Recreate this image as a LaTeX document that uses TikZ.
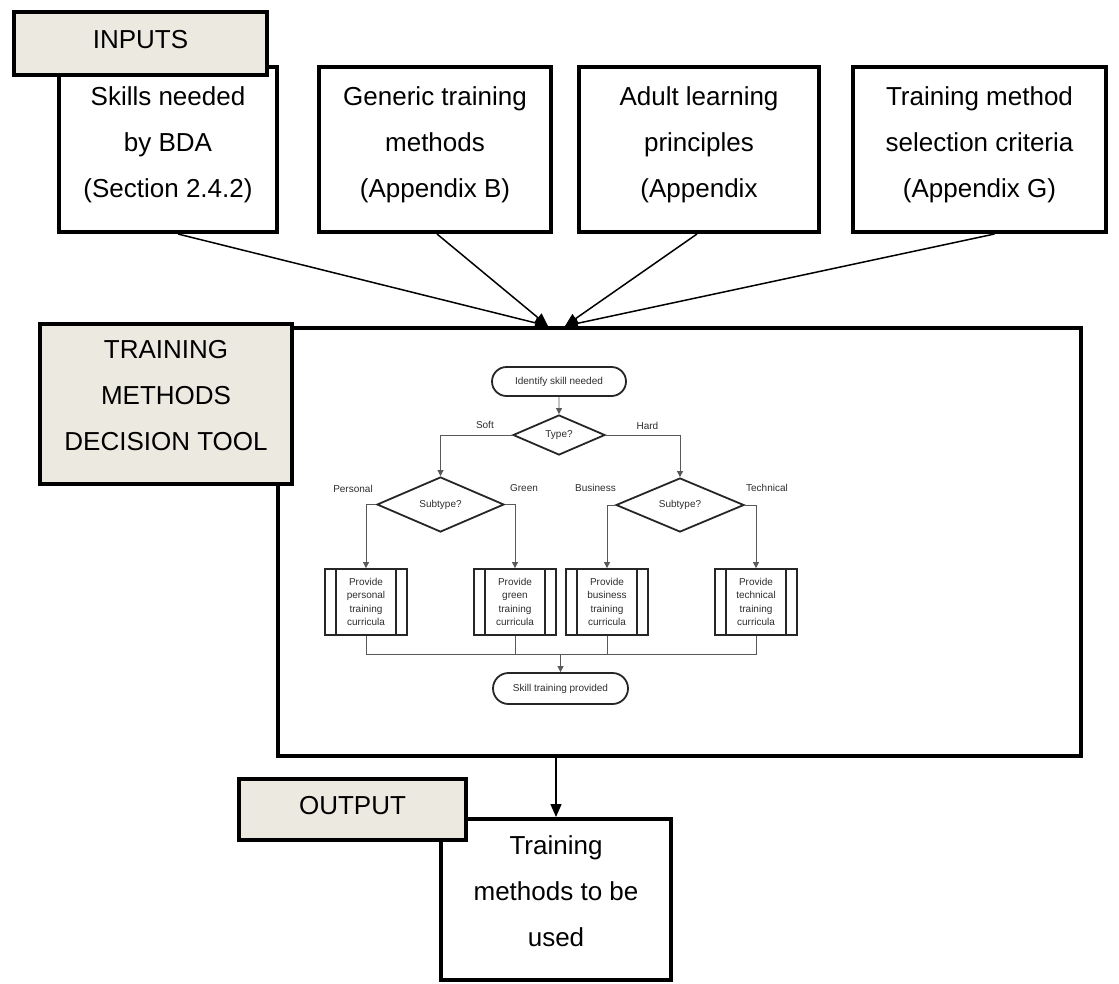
\documentclass[tikz,border=0pt]{standalone}
\usepackage{fontspec}
\setmainfont{Liberation Sans}
\usetikzlibrary{arrows.meta,shapes.geometric,shapes.misc}
\definecolor{tagfill}{RGB}{236,234,224}
\definecolor{ink}{RGB}{45,45,45}
\begin{document}
\begin{tikzpicture}[x=1pt,y=-1pt,
        big/.style={font=\fontsize{26}{46}\selectfont},
        inbox/.style={draw,line width=4pt,minimum height=165pt,inner sep=0pt},
        tagbox/.style={draw,line width=4pt,fill=tagfill,inner sep=0pt,big},
        note/.style={align=center,inner sep=0pt,big},
        feed/.style={line width=1.5pt,-{Triangle[length=13pt,width=11pt]}},
        small/.style={font=\fontsize{10}{13.3}\selectfont,text=ink},
        term/.style={draw=black!85,line width=1.8pt,rounded rectangle,minimum width=134pt,minimum height=29pt,inner sep=0pt,small},
        choice/.style={draw=black!85,line width=1.8pt,diamond,aspect=2.3,inner sep=0pt,small},
        proc/.style={draw=black!85,line width=1.8pt,minimum width=82pt,minimum height=66pt,inner sep=0pt,align=center,small,
            path picture={\draw[line width=1.8pt,black!85]
                ([xshift=11pt]path picture bounding box.north west) -- ([xshift=11pt]path picture bounding box.south west)
                ([xshift=-11pt]path picture bounding box.north east) -- ([xshift=-11pt]path picture bounding box.south east);}},
        flow/.style={line width=0.8pt,draw=black!65,-{Triangle[length=6pt,width=6pt]}},
        link/.style={line width=0.8pt,draw=black!65},
        lbl/.style={inner sep=0pt,small}]
    \useasboundingbox (0,0) rectangle (1119,983);

    \node[inbox,minimum width=218pt] (skills) at (168,149.5) {};
    \node[inbox,minimum width=232pt] (generic) at (435,149.5) {};
    \node[inbox,minimum width=240pt] (adult) at (699,149.5) {};
    \node[inbox,minimum width=253pt] (criteria) at (979.5,149.5) {};
    \node[note] (skillsT) at ([yshift=5pt]skills.center) {Skills needed\\by BDA\\(Section 2.4.2)};
    \node[note] (genericT) at ([yshift=5pt]generic.center) {Generic training\\methods\\(Appendix B)};
    \node[note] (adultT) at ([yshift=5pt]adult.center) {Adult learning\\principles\\(Appendix};
    \node[note] (criteriaT) at ([yshift=5pt]criteria.center) {Training method\\selection criteria\\(Appendix G)};
    \node[tagbox,minimum width=253pt,minimum height=63pt,text depth=8pt] (inputs) at (140.5,43.5) {INPUTS};

    \node[inbox,minimum width=803pt,minimum height=428pt] (tool) at (679.5,542) {};
    \draw[feed] ([xshift=10pt]skills.south) -- ([xshift=-131.5pt]tool.north);
    \draw[feed] ([xshift=2pt]generic.south) -- ([xshift=-131.5pt]tool.north);
    \draw[feed] ([xshift=-2pt]adult.south) -- ([xshift=-114.5pt]tool.north);
    \draw[feed] ([xshift=15pt]criteria.south) -- ([xshift=-114.5pt]tool.north);
    \node[tagbox,minimum width=252pt,minimum height=160pt] (tooltag) at (166,404) {};
    \node[note] (tooltagT) at ([yshift=8pt]tooltag.center) {TRAINING\\METHODS\\DECISION TOOL};

    \node[term] (ident) at (559,381.5) {Identify skill needed};
    \node[choice,minimum width=92pt,minimum height=40pt] (type) at (559,435) {Type?};
    \node[choice,minimum width=127pt,minimum height=55pt] (subL) at (440.5,504.5) {Subtype?};
    \node[choice,minimum width=128pt,minimum height=54pt] (subR) at (680,505) {Subtype?};
    \node[proc] (pers) at (366,602) {Provide\\personal\\training\\curricula};
    \node[proc] (green) at (515,602) {Provide\\green\\training\\curricula};
    \node[proc] (busi) at (607,602) {Provide\\business\\training\\curricula};
    \node[proc] (tech) at (756,602) {Provide\\technical\\training\\curricula};
    \node[term,minimum width=135pt,minimum height=31pt] (done) at (560.5,688.5) {Skill training provided};
    \coordinate (join) at (560.5,654);

    \draw[flow] (ident) -- (type);
    \draw[flow] (type.west) -| node[lbl,pos=0.19,above=6pt]{Soft} (subL.north);
    \draw[flow] (type.east) -| node[lbl,pos=0.28,above=5pt]{Hard} (subR.north);
    \draw[flow] (subL.west) -| node[lbl,above=12pt,xshift=-13pt]{Personal} (pers.north);
    \draw[flow] (subL.east) -| node[lbl,above=13pt,xshift=9pt]{Green} (green.north);
    \draw[flow] (subR.west) -| node[lbl,above=13pt,xshift=-11.5pt]{Business} (busi.north);
    \draw[flow] (subR.east) -| node[lbl,above=13pt,xshift=11pt]{Technical} (tech.north);
    \draw[link] (pers.south) |- (join) -| (tech.south);
    \draw[link] (green.south) |- (join) -| (busi.south);
    \draw[flow] (join) -- (done);

    \node[inbox,minimum width=230pt,minimum height=161pt] (out) at (556,899.5) {};
    \node[note] (outT) at ([yshift=8pt]out.center) {Training\\methods to be\\used};
    \draw[feed] (tool.south -| out.north) -- (out.north);
    \node[tagbox,minimum width=227pt,minimum height=61pt,text depth=8pt] (outtag) at (352.5,809.5) {OUTPUT};
\end{tikzpicture}
\end{document}
